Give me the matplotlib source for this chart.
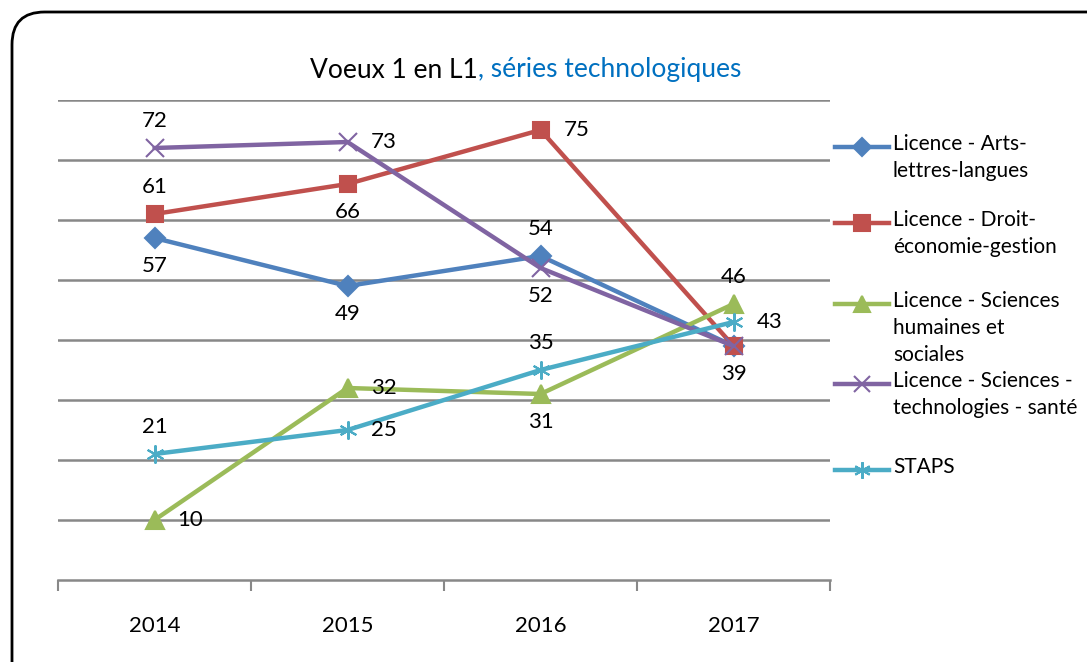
import matplotlib
matplotlib.use("Agg")
import matplotlib.pyplot as plt
from matplotlib.lines import Line2D
from matplotlib.patches import FancyBboxPatch

years = ["2014", "2015", "2016", "2017"]
series_names = [
    "Licence - Arts-\nlettres-langues",
    "Licence - Droit-\néconomie-gestion",
    "Licence - Sciences\nhumaines et\nsociales",
    "Licence - Sciences -\ntechnologies - santé",
    "STAPS",
]
arts = [57, 49, 54, 39]
droit = [61, 66, 75, 39]
shs = [10, 32, 31, 46]
sts = [72, 73, 52, 39]
staps = [21, 25, 35, 43]
values = [arts, droit, shs, sts, staps]

# label placement for each point (None = hidden)
label_pos = [
    ["below", "below", "above", None],
    ["above", "below", "right", "below"],
    ["right", "right", "below", "above"],
    ["above", "right", "below", None],
    ["above", "right", "above", "right"],
]

colors = ["#4F81BD", "#C0504D", "#9BBB59", "#8064A2", "#4BACC6"]
markers = ["D", "s", "^", "x", (6, 2, 0)]
msizes = [10, 12, 13, 13, 13]

plt.rcParams["font.family"] = ["Lato", "DejaVu Sans"]
FS = 16

W, H = 1087, 662
fig = plt.figure(figsize=(W / 100, H / 100), dpi=100)
ax = fig.add_axes([58 / W, (H - 580) / H, 772 / W, 480 / H])

x = list(range(len(years)))
for vals, c, m, ms in zip(values, colors, markers, msizes):
    ax.plot(x, vals, color=c, lw=3.2, marker=m, ms=ms, mew=1.5,
            mec=c, mfc=c, zorder=3, solid_capstyle="round")

offs = {"above": (0, 27), "below": (0, -28), "right": (36, 0)}
for vals, poss in zip(values, label_pos):
    for xi, (v, p) in enumerate(zip(vals, poss)):
        if p is None:
            continue
        ax.annotate(str(v), (xi, v), xytext=offs[p], textcoords="offset pixels",
                    ha="center", va="center", fontsize=FS, color="black", zorder=5)

ax.set_xlim(-0.5, 3.5)
ax.set_ylim(0, 80)
ax.set_yticks(range(10, 81, 10))
ax.yaxis.grid(True, color="#888888", lw=1.8)
ax.tick_params(axis="y", left=False, labelleft=False)
ax.set_xticks(x)
ax.set_xticklabels(years, fontsize=FS)
ax.set_xticks([-0.5, 0.5, 1.5, 2.5, 3.5], minor=True)
ax.tick_params(axis="x", which="major", length=0, pad=26)
ax.tick_params(axis="x", which="minor", length=8, width=1.5, color="#888888")
for s in ["top", "right", "left"]:
    ax.spines[s].set_visible(False)
ax.spines["bottom"].set_color("#888888")
ax.spines["bottom"].set_linewidth(1.8)
ax.set_axisbelow(True)

# legend (manual, handle aligned with first text line)
leg_y = [147, 223, 304, 384, 470]
for name, c, m, ms, yy in zip(series_names, colors, markers, msizes, leg_y):
    yf = (H - yy) / H
    fig.add_artist(Line2D([835 / W, 889 / W], [yf, yf], color=c, lw=3.2,
                          transform=fig.transFigure))
    fig.add_artist(Line2D([862 / W], [yf], color=c, marker=m, ms=ms - 1, mec=c, mfc=c,
                          mew=1.5, transform=fig.transFigure))
    fig.text(893 / W, (H - yy + 13) / H, name, fontsize=15, va="top", ha="left",
             linespacing=1.45)

# title in two colours
t1 = fig.text(0, (H - 70) / H, "Voeux 1 en L1", fontsize=19, va="center", ha="left")
t2 = fig.text(0, (H - 70) / H, ", séries technologiques", fontsize=19, va="center",
              ha="left", color="#0070C0")
r = fig.canvas.get_renderer()
w1 = t1.get_window_extent(r).width
w2 = t2.get_window_extent(r).width
start = 526 - (w1 + w2) / 2
t1.set_x(start / W)
t2.set_x((start + w1) / W)

# outer rounded frame
frame = FancyBboxPatch((12 / W, -0.05), 1.2, (H - 12) / H + 0.05,
                       boxstyle="round,pad=0,rounding_size=0.03",
                       transform=fig.transFigure, fill=False, ec="black", lw=2,
                       mutation_aspect=W / H)
fig.add_artist(frame)

fig.savefig("out.png", dpi=100)
